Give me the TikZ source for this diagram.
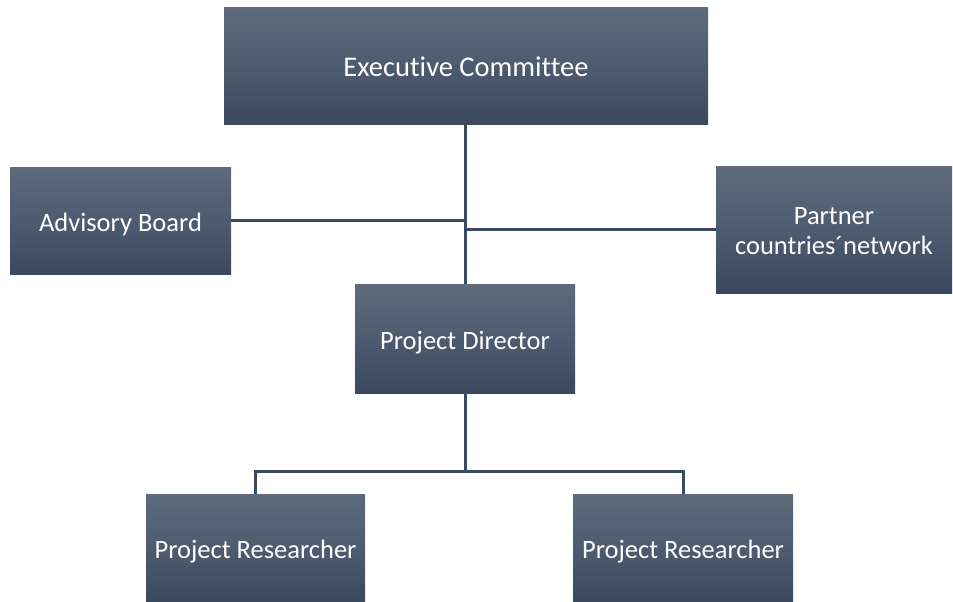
\documentclass[tikz,border=0pt]{standalone}
\usepackage{fontspec}
\setmainfont[Ligatures=NoCommon]{Carlito}
% lower a label inside its box without changing the box's size
\newcommand{\dropby}[2]{\raisebox{-#1}[\height][\depth]{#2}}
\begin{document}
\definecolor{boxtop}{HTML}{5F6A7C}
\definecolor{boxbot}{HTML}{3A4860}
\definecolor{wire}{HTML}{3B4961}
\begin{tikzpicture}[x=1pt,y=-1pt,
  orgbox/.style={rectangle, inner sep=0pt, align=center, text=white,
    font=\fontsize{26.5}{30}\selectfont,
    top color=boxtop, bottom color=boxbot, middle color=boxtop!55!boxbot},
  link/.style={draw=wire, line width=3pt}]
\useasboundingbox (0,0) rectangle (953,602);
\fill[white] (0,0) rectangle (953,602);

\node[orgbox, minimum width=484pt, minimum height=116pt, font=\fontsize{28.5}{32}\selectfont] (exec) at (466,66) {\dropby{1pt}{Executive Committee}};
\node[orgbox, minimum width=221pt, minimum height=107pt] (adv) at (120.5,220.5) {\dropby{4pt}{Advisory Board}};
\node[orgbox, minimum width=236pt, minimum height=127pt] (partner) at (834,229.5) {\dropby{2pt}{Partner}\\\dropby{2pt}{countries´network}};
\node[orgbox, minimum width=220pt, minimum height=109pt] (dir) at (465,338.5) {\dropby{4pt}{Project Director}};
\node[orgbox, minimum width=219pt, minimum height=108pt] (resA) at (255.5,548) {\dropby{4pt}{Project Researcher}};
\node[orgbox, minimum width=220pt, minimum height=108pt] (resB) at (683,548) {\dropby{4pt}{Project Researcher}};

\coordinate (split) at (465,471);

\draw[link] (exec.south -| dir.north) -- (dir.north);
\draw[link] (adv.east) -- (adv.east -| dir.north);
\draw[link] (partner.west) -- (partner.west -| dir.north);
\draw[link] (dir.south) -- (split);
\draw[link] (resA.north) |- (split) -| (resB.north);
\end{tikzpicture}
\end{document}
